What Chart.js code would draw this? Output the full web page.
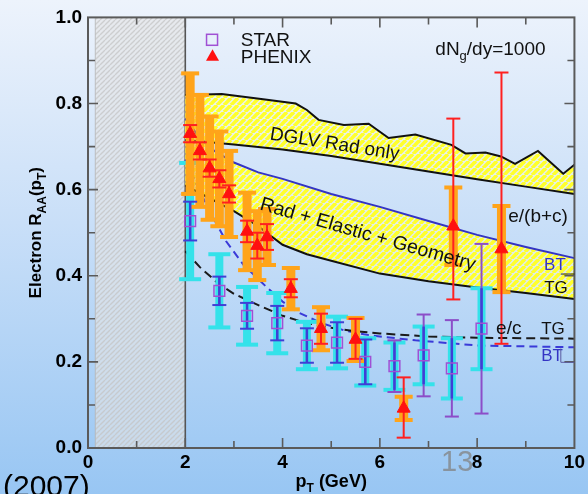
<!DOCTYPE html>
<html>
<head>
<meta charset="utf-8">
<style>
  html, body { margin: 0; padding: 0; background: #c9dff8; }
  canvas { display: block; }
</style>
<script src="https://cdn.jsdelivr.net/npm/chart.js@4.4.1/dist/chart.umd.min.js"></script>
</head>
<body>
<canvas id="chart" width="588" height="494"></canvas>
<script>
// ---- axis ticks ----
const xTicks = [0, 2, 4, 6, 8, 10];
const xTickLabels = ['0', '2', '4', '6', '8', '10'];
const yTicks = [0, 0.2, 0.4, 0.6, 0.8, 1.0];
const yTickLabels = ['0.0', '0.2', '0.4', '0.6', '0.8', '1.0'];

// p_T range excluded from the comparison (hatched)
const excludedPt = [0.15, 2.0];

// ---- PHENIX non-photonic electrons ----
const phenixPt      = [2.1, 2.3, 2.5, 2.7, 2.9, 3.27, 3.48, 3.68, 4.17, 4.79, 5.5, 6.49, 7.51, 8.5];
const phenixRaa     = [0.73, 0.69, 0.65, 0.625, 0.59, 0.503, 0.47, 0.49, 0.37, 0.277, 0.252, 0.092, 0.515, 0.462];
const phenixStatLo  = [0.02, 0.02, 0.02, 0.02, 0.02, 0.025, 0.03, 0.03, 0.02, 0.035, 0.045, 0.068, 0.17, 0.22];
const phenixStatHi  = [0.02, 0.02, 0.02, 0.02, 0.02, 0.025, 0.03, 0.03, 0.022, 0.035, 0.048, 0.072, 0.25, 0.41];
const phenixSys     = [0.14, 0.13, 0.12, 0.11, 0.10, 0.09, 0.08, 0.065, 0.048, 0.05, 0.05, 0.027, 0.09, 0.10];

// ---- STAR non-photonic electrons ----
const starPt   = [2.1, 2.7, 3.27, 3.89, 4.5, 5.12, 5.7, 6.3, 6.9, 7.48, 8.09];
const starRaa  = [0.527, 0.365, 0.307, 0.29, 0.238, 0.245, 0.2, 0.19, 0.215, 0.185, 0.277];
const starStat = [0.045, 0.033, 0.03, 0.04, 0.04, 0.047, 0.052, 0.06, 0.095, 0.112, 0.197];
const starSys  = [0.135, 0.085, 0.067, 0.07, 0.055, 0.06, 0.055, 0.055, 0.067, 0.07, 0.094];

// ---- DGLV radiative only band ----
const dglvUpperPt  = [2.0, 2.75, 3.6, 4.27, 4.5, 4.74, 5.26, 5.77, 6.18, 6.73, 7.47, 7.76, 8.17, 8.49, 8.78, 9.25, 9.77, 10];
const dglvUpperRaa = [0.82, 0.822, 0.81, 0.80, 0.785, 0.762, 0.75, 0.753, 0.72, 0.728, 0.704, 0.684, 0.686, 0.677, 0.66, 0.69, 0.637, 0.658];
const dglvLowerPt  = [2, 3, 4, 5, 6, 7, 8, 9, 10];
const dglvLowerRaa = [0.715, 0.705, 0.693, 0.678, 0.66, 0.642, 0.624, 0.607, 0.59];

// ---- Rad + Elastic + Geometry, e/(b+c) ----
const bcBtPt  = [2, 2.3, 2.6, 3.0, 3.5, 4, 5, 6, 7, 8, 9, 10];
const bcBtRaa = [0.765, 0.72, 0.69, 0.663, 0.64, 0.625, 0.59, 0.56, 0.527, 0.495, 0.467, 0.441];
const bcTgPt  = [2, 2.5, 3, 3.5, 4, 4.5, 5, 6, 7, 8, 9, 10];
const bcTgRaa = [0.61, 0.58, 0.55, 0.515, 0.472, 0.45, 0.435, 0.405, 0.387, 0.373, 0.36, 0.346];

// ---- Rad + Elastic + Geometry, e/c ----
const cTgPt  = [2, 2.3, 2.7, 3.0, 3.4, 4, 4.5, 5, 5.5, 6, 7, 8, 9, 10];
const cTgRaa = [0.457, 0.42, 0.38, 0.358, 0.337, 0.307, 0.29, 0.279, 0.271, 0.266, 0.259, 0.256, 0.255, 0.254];
const cBtPt  = [2, 2.2, 2.5, 2.84, 3.2, 3.65, 4.0, 4.34, 4.8, 5.3, 5.83, 6.73, 8, 10];
const cBtRaa = [0.67, 0.62, 0.55, 0.48, 0.425, 0.376, 0.34, 0.314, 0.29, 0.272, 0.261, 0.25, 0.238, 0.234];

const FONT = "'Liberation Sans', Arial, Helvetica, sans-serif";
const BLUE = '#3434c4';

const pts = (xs, ys) => xs.map((v, i) => ({ x: v, y: ys[i] }));

function curve(xs, ys, color, dash) {
  return {
    type: 'line', data: pts(xs, ys), borderColor: color, borderWidth: 2,
    borderDash: dash || [], pointRadius: 0, tension: 0, fill: false, order: 5
  };
}

// diagonal "/" stripes as a repeating pattern
function stripes(ctx, size, color, width) {
  const c = document.createElement('canvas');
  c.width = c.height = size;
  const g = c.getContext('2d');
  g.strokeStyle = color; g.lineWidth = width;
  for (let k = -1; k <= 1; k++) {
    g.beginPath(); g.moveTo(k * size, size); g.lineTo(k * size + size, 0); g.stroke();
  }
  return ctx.createPattern(c, 'repeat');
}

function bandPath(ctx, X, Y, upX, upY, loX, loY) {
  ctx.beginPath();
  upX.forEach((v, i) => { const px = X(v), py = Y(upY[i]); i ? ctx.lineTo(px, py) : ctx.moveTo(px, py); });
  for (let i = loX.length - 1; i >= 0; i--) ctx.lineTo(X(loX[i]), Y(loY[i]));
  ctx.closePath();
}

function errBar(ctx, px, y1, y2, color, lw, capW, capLw, capColor1, capColor2) {
  ctx.strokeStyle = color; ctx.lineWidth = lw;
  ctx.beginPath(); ctx.moveTo(px, y1); ctx.lineTo(px, y2); ctx.stroke();
  ctx.lineWidth = capLw;
  ctx.strokeStyle = capColor1 || color;
  ctx.beginPath(); ctx.moveTo(px - capW / 2, y1); ctx.lineTo(px + capW / 2, y1); ctx.stroke();
  ctx.strokeStyle = capColor2 || color;
  ctx.beginPath(); ctx.moveTo(px - capW / 2, y2); ctx.lineTo(px + capW / 2, y2); ctx.stroke();
}

// text with optional subscript pieces: [{t:'dN'},{t:'g',sub:true},...]
function richWidth(ctx, parts, size, weight) {
  let w = 0;
  parts.forEach(p => {
    ctx.font = `${weight} ${p.sub ? Math.round(size * 0.68) : size}px ${FONT}`;
    w += ctx.measureText(p.t).width;
  });
  return w;
}
function richText(ctx, parts, x, y, size, weight, align) {
  const w = richWidth(ctx, parts, size, weight);
  let cx = align === 'center' ? x - w / 2 : align === 'right' ? x - w : x;
  ctx.textAlign = 'left';
  ctx.textBaseline = 'alphabetic';
  parts.forEach(p => {
    const s = p.sub ? Math.round(size * 0.68) : size;
    ctx.font = `${weight} ${s}px ${FONT}`;
    ctx.fillText(p.t, cx, p.sub ? y + size * 0.28 : y);
    cx += ctx.measureText(p.t).width;
  });
}

function drawErrorBars(chart) {
  const { ctx, scales: { x, y } } = chart;
  const X = v => x.getPixelForValue(v), Y = v => y.getPixelForValue(v);
  ctx.save();
  ctx.lineCap = 'butt';
  // systematic uncertainties
  starPt.forEach((p, i) => errBar(ctx, X(p), Y(starRaa[i] - starSys[i]), Y(starRaa[i] + starSys[i]), '#34e2ea', 8, 22, 4));
  phenixPt.forEach((p, i) => errBar(ctx, X(p), Y(phenixRaa[i] - phenixSys[i]), Y(phenixRaa[i] + phenixSys[i]), '#ffa41a', 9, 18, 4));
  // statistical uncertainties
  starPt.forEach((p, i) => {
    const lo = starRaa[i] - starStat[i], hi = starRaa[i] + starStat[i];
    const sLo = starRaa[i] - starSys[i], sHi = starRaa[i] + starSys[i];
    const purple = '#8c4ec8', blue = '#3f3fd6';
    errBar(ctx, X(p), Y(lo), Y(hi), purple, 2, 14, 2, lo >= sLo ? blue : purple, hi <= sHi ? blue : purple);
    ctx.strokeStyle = blue; ctx.lineWidth = 2.5;
    ctx.beginPath(); ctx.moveTo(X(p), Y(Math.max(lo, sLo))); ctx.lineTo(X(p), Y(Math.min(hi, sHi))); ctx.stroke();
  });
  phenixPt.forEach((p, i) => errBar(ctx, X(p), Y(phenixRaa[i] - phenixStatLo[i]), Y(phenixRaa[i] + phenixStatHi[i]), '#ff2020', 2, 14, 2));
  ctx.restore();
}

const decor = {
  id: 'decor',
  beforeDraw(chart) {
    const { ctx, width, height } = chart;
    const g = ctx.createLinearGradient(0, 0, 0, height);
    g.addColorStop(0, '#edf3fc');
    g.addColorStop(0.45, '#c9dff8');
    g.addColorStop(1, '#98c6f3');
    ctx.save(); ctx.fillStyle = g; ctx.fillRect(0, 0, width, height); ctx.restore();
  },
  beforeDatasetsDraw(chart) {
    const { ctx, chartArea: a, scales: { x, y } } = chart;
    const X = v => x.getPixelForValue(v), Y = v => y.getPixelForValue(v);
    ctx.save();
    // excluded low-p_T zone
    const x0 = X(excludedPt[0]), x1 = X(excludedPt[1]);
    ctx.fillStyle = 'rgba(228,228,228,0.6)';
    ctx.fillRect(x0, a.top, x1 - x0, a.bottom - a.top);
    ctx.fillStyle = stripes(ctx, 5, 'rgba(196,196,196,0.75)', 1.3);
    ctx.fillRect(x0, a.top, x1 - x0, a.bottom - a.top);
    ctx.strokeStyle = 'rgba(180,180,180,0.8)'; ctx.lineWidth = 1;
    ctx.beginPath(); ctx.moveTo(x0, a.top); ctx.lineTo(x0, a.bottom); ctx.stroke();
    ctx.strokeStyle = '#555'; ctx.lineWidth = 1.6;
    ctx.beginPath(); ctx.moveTo(x1, a.top); ctx.lineTo(x1, a.bottom); ctx.stroke();

    // hatched theory bands
    const yellow = stripes(ctx, 7, '#ffff2c', 3.6);
    [[dglvUpperPt, dglvUpperRaa, dglvLowerPt, dglvLowerRaa],
     [bcBtPt, bcBtRaa, bcTgPt, bcTgRaa]].forEach(b => {
      bandPath(ctx, X, Y, b[0], b[1], b[2], b[3]);
      ctx.fillStyle = 'rgba(250,252,225,0.55)'; ctx.fill();
      ctx.fillStyle = yellow; ctx.fill();
    });
    ctx.restore();
  },
  beforeDatasetDraw(chart, args) {
    if (args.index === 6) drawErrorBars(chart);
  },
  afterDatasetsDraw(chart) {
    const { ctx, chartArea: a, scales: { x, y } } = chart;
    const X = v => x.getPixelForValue(v), Y = v => y.getPixelForValue(v);
    ctx.save();
    // frame with inward ticks
    ctx.strokeStyle = '#5a5a5a'; ctx.lineWidth = 2;
    ctx.strokeRect(a.left, a.top, a.right - a.left, a.bottom - a.top);
    ctx.lineWidth = 1.6;
    ctx.beginPath();
    for (let k = 1; k < 10; k++) {
      const len = k % 2 === 0 ? 10 : 7, px = X(k);
      ctx.moveTo(px, a.bottom); ctx.lineTo(px, a.bottom - len);
      ctx.moveTo(px, a.top); ctx.lineTo(px, a.top + len);
    }
    for (let k = 1; k < 10; k++) {
      const len = k % 2 === 0 ? 10 : 7, py = Y(k / 10);
      ctx.moveTo(a.left, py); ctx.lineTo(a.left + len, py);
      ctx.moveTo(a.right, py); ctx.lineTo(a.right - len, py);
    }
    ctx.stroke();

    // legend
    ctx.strokeStyle = '#a050d4'; ctx.lineWidth = 1.5;
    ctx.strokeRect(X(2.55) - 5.5, Y(0.948) - 5.5, 11, 11);
    ctx.fillStyle = '#ff1010';
    ctx.beginPath();
    const tx = X(2.56), ty = Y(0.91);
    ctx.moveTo(tx, ty - 7); ctx.lineTo(tx + 6.5, ty + 4.5); ctx.lineTo(tx - 6.5, ty + 4.5); ctx.closePath(); ctx.fill();
    ctx.fillStyle = '#111';
    ctx.font = `19px ${FONT}`; ctx.textAlign = 'left'; ctx.textBaseline = 'middle';
    ctx.fillText('STAR', X(3.14), Y(0.946));
    ctx.fillText('PHENIX', X(3.14), Y(0.907));

    // medium density
    richText(ctx, [{ t: 'dN' }, { t: 'g', sub: true }, { t: '/dy=1000' }], X(7.14), Y(0.93) + 7, 19, 'normal', 'left');

    // band labels along the curves
    ctx.font = `19px ${FONT}`; ctx.textAlign = 'center'; ctx.textBaseline = 'middle';
    ctx.save(); ctx.translate(X(5.07), Y(0.705)); ctx.rotate(9 * Math.PI / 180);
    ctx.fillText('DGLV Rad only', 0, 0); ctx.restore();
    ctx.save(); ctx.translate(X(5.75), Y(0.495)); ctx.rotate(16 * Math.PI / 180);
    ctx.font = `19.5px ${FONT}`;
    ctx.fillText('Rad + Elastic + Geometry', 0, 0); ctx.restore();

    // curve labels on the right
    ctx.font = `19px ${FONT}`;
    ctx.textAlign = 'left';
    ctx.fillText('e/(b+c)', X(8.64), Y(0.536));
    ctx.fillText('e/c', X(8.39), Y(0.277));
    ctx.font = `17px ${FONT}`; ctx.textAlign = 'center';
    ctx.fillStyle = BLUE;
    ctx.fillText('BT', X(9.6), Y(0.425));
    ctx.fillText('BT', X(9.54), Y(0.212));
    ctx.fillStyle = '#111';
    ctx.fillText('TG', X(9.62), Y(0.372));
    ctx.fillText('TG', X(9.56), Y(0.275));
    ctx.lineWidth = 1;
    ctx.strokeStyle = '#222';
    ctx.beginPath(); ctx.moveTo(X(9.72), Y(0.404)); ctx.lineTo(X(10), Y(0.404)); ctx.stroke();
    ctx.strokeStyle = '#5a5aa0';
    ctx.beginPath(); ctx.moveTo(X(9.72), Y(0.231)); ctx.lineTo(X(9.72), Y(0.199)); ctx.lineTo(X(10), Y(0.199)); ctx.stroke();
    ctx.restore();
  },
  afterDraw(chart) {
    const { ctx, chartArea: a } = chart;
    ctx.save();
    ctx.fillStyle = '#000';
    // axis titles
    richText(ctx, [{ t: 'p' }, { t: 'T', sub: true }, { t: ' (GeV)' }], (a.left + a.right) / 2, 487, 18, 'bold', 'center');
    ctx.save();
    ctx.translate(41, (a.top + a.bottom) / 2); ctx.rotate(-Math.PI / 2);
    richText(ctx, [{ t: 'Electron R' }, { t: 'AA', sub: true }, { t: '(p' }, { t: 'T', sub: true }, { t: ')' }], 0, 0, 17, 'bold', 'center');
    ctx.restore();
    // slide decorations
    ctx.font = `30px ${FONT}`; ctx.textAlign = 'left'; ctx.textBaseline = 'alphabetic';
    ctx.fillText('(2007)', 3, 496);
    ctx.fillStyle = 'rgba(130,130,130,0.75)';
    ctx.font = `29px ${FONT}`;
    ctx.fillText('13', 441, 471);
    ctx.restore();
  }
};

new Chart(document.getElementById('chart'), {
  type: 'line',
  data: {
    datasets: [
      curve(dglvUpperPt, dglvUpperRaa, '#111'),
      curve(dglvLowerPt, dglvLowerRaa, '#111'),
      curve(bcBtPt, bcBtRaa, BLUE),
      curve(bcTgPt, bcTgRaa, '#111'),
      curve(cTgPt, cTgRaa, '#1a1a1a', [9, 5]),
      curve(cBtPt, cBtRaa, '#3a3ad8', [8, 5]),
      {
        type: 'scatter', data: pts(starPt, starRaa), pointStyle: 'rect', pointRadius: 7.6,
        borderColor: '#a050d4', backgroundColor: 'rgba(0,0,0,0)', borderWidth: 1.5, order: 1
      },
      {
        type: 'scatter', data: pts(phenixPt, phenixRaa), pointStyle: 'triangle', pointRadius: 7.5,
        borderColor: '#ff1010', backgroundColor: '#ff1010', borderWidth: 1, order: 0
      }
    ]
  },
  options: {
    responsive: false,
    devicePixelRatio: 1,
    animation: false,
    layout: { padding: { top: 15, right: 11, left: 0, bottom: 0 } },
    plugins: { legend: { display: false }, tooltip: { enabled: false } },
    scales: {
      x: {
        type: 'linear', min: 0, max: 10,
        afterBuildTicks: s => { s.ticks = xTicks.map(v => ({ value: v })); },
        ticks: {
          callback: (v) => xTickLabels[xTicks.indexOf(v)],
          font: { family: FONT, size: 19, weight: 'bold' }, color: '#000',
          padding: 3, maxRotation: 0, autoSkip: false
        },
        grid: { display: false, drawTicks: false },
        border: { display: false },
        afterFit: s => { s.height = 46; }
      },
      y: {
        type: 'linear', min: 0, max: 1,
        afterBuildTicks: s => { s.ticks = yTicks.map(v => ({ value: v })); },
        ticks: {
          callback: (v) => yTickLabels[yTicks.indexOf(v)],
          font: { family: FONT, size: 19, weight: 'bold' }, color: '#000',
          padding: 6, autoSkip: false
        },
        grid: { display: false, drawTicks: false },
        border: { display: false },
        afterFit: s => { s.width = 88; }
      }
    }
  },
  plugins: [decor]
});
</script>
</body>
</html>
